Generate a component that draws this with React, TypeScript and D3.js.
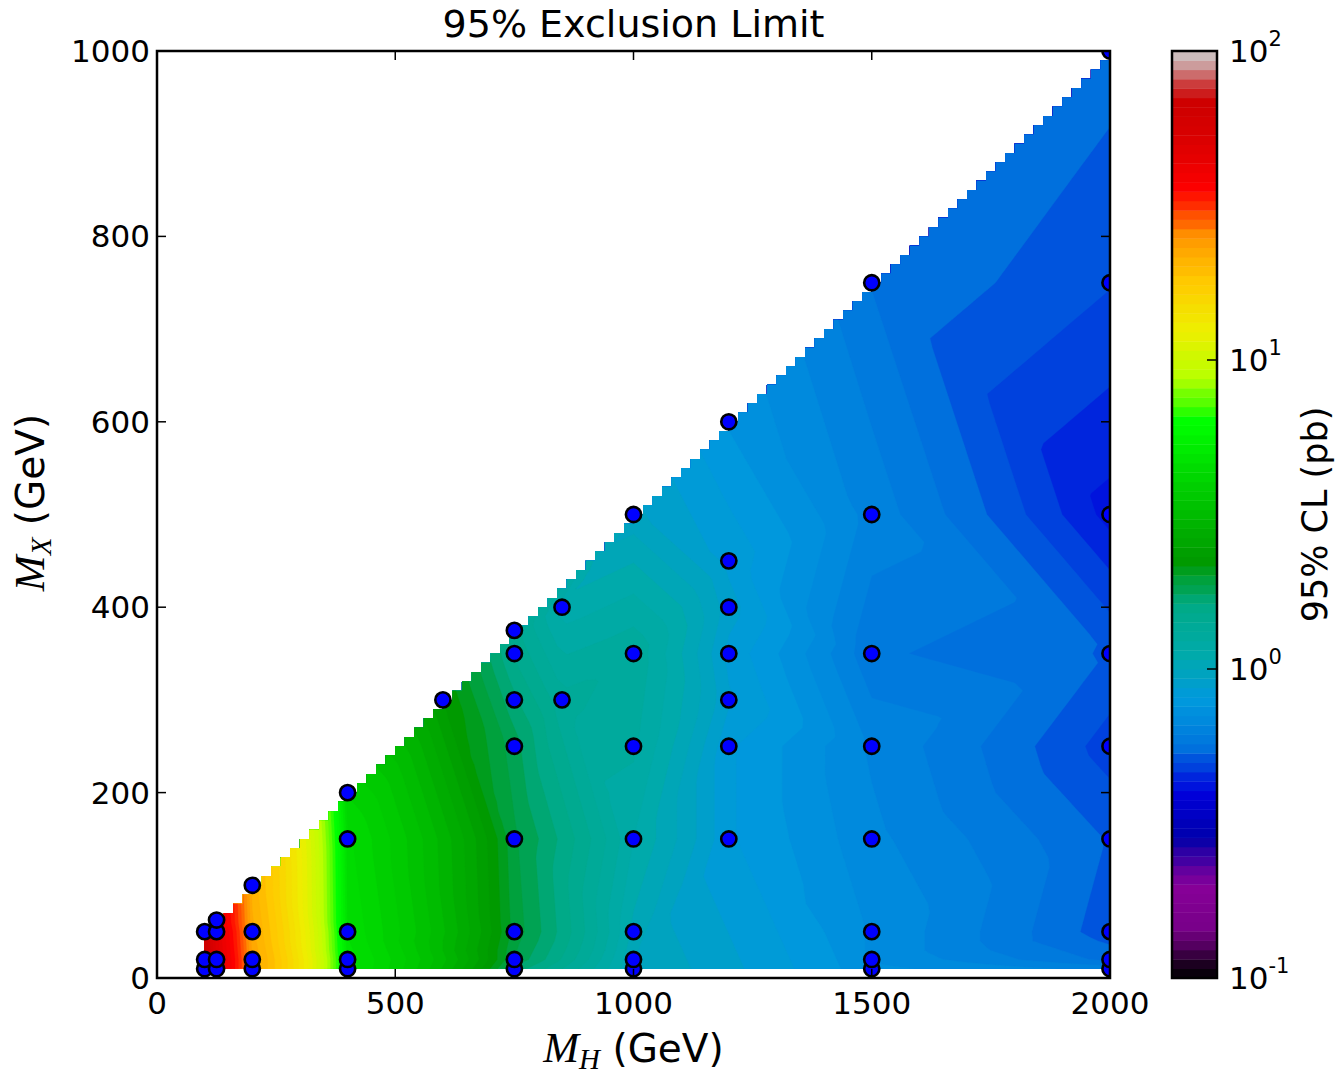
import React, { useMemo } from "react";
import * as d3 from "d3";

// ---------------- data ----------------
const massH = [
  100, 100, 100,
  125, 125, 125, 125,
  200, 200, 200, 200,
  400, 400, 400, 400, 400,
  600,
  750, 750, 750, 750, 750, 750, 750, 750,
  850, 850,
  1000, 1000, 1000, 1000, 1000, 1000, 1000,
  1200, 1200, 1200, 1200, 1200, 1200, 1200,
  1500, 1500, 1500, 1500, 1500, 1500, 1500, 1500,
  2000, 2000, 2000, 2000, 2000, 2000, 2000, 2000, 2000,
];
const massX = [
  10, 20, 50,
  10, 20, 50, 62.5,
  10, 20, 50, 100,
  10, 20, 50, 150, 200,
  300,
  10, 20, 50, 150, 250, 300, 350, 375,
  300, 400,
  10, 20, 50, 150, 250, 350, 500,
  150, 250, 300, 350, 400, 450, 600,
  10, 20, 50, 150, 250, 350, 500, 750,
  10, 20, 50, 150, 250, 350, 500, 750, 1000,
];
const limitPb = [
  72, 70, 66,
  48, 48, 46, 44,
  23, 23, 22, 21,
  4.8, 4.8, 4.6, 4.4, 4.0,
  2.3,
  1.7, 1.85, 1.95, 1.9, 1.8, 1.65, 1.5, 1.45,
  1.35, 1.1,
  1.0, 1.0, 1.05, 1.15, 1.25, 1.3, 0.95,
  0.82, 0.82, 0.88, 0.85, 0.9, 0.85, 0.75,
  0.72, 0.7, 0.7, 0.67, 0.65, 0.58, 0.64, 0.57,
  0.64, 0.56, 0.51, 0.53, 0.48, 0.53, 0.42, 0.5, 0.55,
];

const xTicks = [0, 500, 1000, 1500, 2000];
const yTicks = [0, 200, 400, 600, 800, 1000];
const cbTicks = [0.1, 1, 10, 100];
const cbTickExp = ["-1", "0", "1", "2"];

// interpolation grid (as in the original griddata call)
const GRID_MH_START = 100;
const GRID_MH_STEP = 20;
const GRID_MH_COUNT = 96;
const GRID_MX_START = 10;
const GRID_MX_STEP = 10;
const GRID_MX_COUNT = 100;
const N_LEVELS = 100;
const LEVEL_MIN_EXP = -1;
const LEVEL_MAX_EXP = 2;

// nipy_spectral colormap segment data
const cmapPos = [0, 0.05, 0.1, 0.15, 0.2, 0.25, 0.3, 0.35, 0.4, 0.45, 0.5, 0.55, 0.6, 0.65, 0.7, 0.75, 0.8, 0.85, 0.9, 0.95, 1.0];
const cmapR = [0, 0.4667, 0.5333, 0, 0, 0, 0, 0, 0, 0, 0, 0, 0, 0.7333, 0.9333, 1, 1, 1, 0.8667, 0.8, 0.8];
const cmapG = [0, 0, 0, 0, 0, 0.4667, 0.6, 0.6667, 0.6667, 0.6, 0.7333, 0.8667, 1, 1, 0.9333, 0.8, 0.6, 0, 0, 0, 0.8];
const cmapB = [0, 0.5333, 0.6, 0.6667, 0.8667, 0.8667, 0.8667, 0.6667, 0.5333, 0, 0, 0, 0, 0, 0, 0, 0, 0, 0, 0, 0.8];

// ---------------- layout ----------------
const W = 1335;
const H = 1074;
const PL = 157, PR = 1110, PT = 51, PB = 978;
const CBL = 1172, CBR = 1217;
const FONT = "DejaVu Sans";
const MATH = "Liberation Serif";

function nipy(f: number): string {
  const t = Math.max(0, Math.min(1, f));
  const r = d3.scaleLinear().domain(cmapPos).range(cmapR)(t);
  const g = d3.scaleLinear().domain(cmapPos).range(cmapG)(t);
  const b = d3.scaleLinear().domain(cmapPos).range(cmapB)(t);
  return d3.rgb(r * 255, g * 255, b * 255).formatHex();
}
function lutColor(f: number): string {
  const idx = Math.max(0, Math.min(255, Math.floor(f * 256)));
  return nipy(idx / 255);
}

export default function App() {
  const xs = d3.scaleLinear().domain([0, 2000]).range([PL, PR]);
  const ys = d3.scaleLinear().domain([0, 1000]).range([PB, PT]);
  const cs = d3.scaleLog().domain([0.1, 100]).range([PB, PT]);
  const logNorm = d3.scaleLog().domain([0.1, 100]).range([0, 1]);

  const model = useMemo(() => {
    const pts: [number, number][] = massH.map((h, i) => [h, massX[i]]);
    const del = d3.Delaunay.from(pts);
    const tris = del.triangles;
    const interp = (x: number, y: number): number => {
      for (let t = 0; t < tris.length; t += 3) {
        const a = tris[t], b = tris[t + 1], c = tris[t + 2];
        const [x1, y1] = pts[a], [x2, y2] = pts[b], [x3, y3] = pts[c];
        const det = (y2 - y3) * (x1 - x3) + (x3 - x2) * (y1 - y3);
        if (Math.abs(det) < 1e-9) continue;
        const l1 = ((y2 - y3) * (x - x3) + (x3 - x2) * (y - y3)) / det;
        const l2 = ((y3 - y1) * (x - x3) + (x1 - x3) * (y - y3)) / det;
        const l3 = 1 - l1 - l2;
        const eps = 1e-7;
        if (l1 >= -eps && l2 >= -eps && l3 >= -eps) {
          return l1 * limitPb[a] + l2 * limitPb[b] + l3 * limitPb[c];
        }
      }
      return limitPb[del.find(x, y)];
    };
    const mhGrid = d3.range(GRID_MH_COUNT).map((i) => GRID_MH_START + GRID_MH_STEP * i);
    const mxGrid = d3.range(GRID_MX_COUNT).map((j) => GRID_MX_START + GRID_MX_STEP * j);
    const n = mhGrid.length, m = mxGrid.length;
    const values = new Array(n * m).fill(0);
    for (let i = 0; i < n; i++) {
      let lastValid = NaN;
      for (let j = 0; j < m; j++) {
        const h = mhGrid[i], x = mxGrid[j];
        if (x <= h / 2 + 1e-9) {
          lastValid = interp(h, x);
        }
        values[i + j * n] = lastValid;
      }
    }
    const levels = d3.range(N_LEVELS).map(
      (k) => Math.pow(10, LEVEL_MIN_EXP + ((LEVEL_MAX_EXP - LEVEL_MIN_EXP) * k) / (N_LEVELS - 1))
    );
    const bandColors = levels.slice(0, -1).map((lv, k) => {
      const mid = 0.5 * (lv + levels[k + 1]);
      return lutColor(logNorm(mid));
    });
    const contours = d3.contours().size([n, m]).thresholds(levels.slice(0, -1))(values);
    const proj = d3.geoTransform({
      point(px: number, py: number) {
        (this as any).stream.point(
          xs(GRID_MH_START + GRID_MH_STEP * (px - 0.5)),
          ys(GRID_MX_START + GRID_MX_STEP * (py - 0.5))
        );
      },
    });
    const path = d3.geoPath(proj);
    const bands = contours.map((c, k) => ({ d: path(c as any) || "", fill: bandColors[k] }));

    // valid-cell region (staircase): cell valid when its upper-left corner is valid
    const tops = mhGrid.slice(0, -1).map((h) => d3.max(mxGrid.filter((x) => x <= h / 2 + 1e-9)) as number);
    const poly: [number, number][] = [];
    poly.push([xs(mhGrid[0]), ys(mxGrid[0])]);
    poly.push([xs(mhGrid[n - 1]), ys(mxGrid[0])]);
    for (let i = n - 2; i >= 0; i--) {
      poly.push([xs(mhGrid[i + 1]), ys(tops[i])]);
      poly.push([xs(mhGrid[i]), ys(tops[i])]);
    }
    const clipD = "M" + poly.map((p) => p.join(",")).join("L") + "Z";
    return { bands, clipD, levels, bandColors };
  }, []);

  const tickLen = 9;
  return (
    <svg
      width={W}
      height={H}
      style={{ position: "absolute", left: 0, top: 0, background: "#fff" }}
      fontFamily={FONT}
    >
      <defs>
        <clipPath id="stair">
          <path d={model.clipD} />
        </clipPath>
        <clipPath id="axes">
          <rect x={PL} y={PT} width={PR - PL} height={PB - PT} />
        </clipPath>
      </defs>
      <rect x={0} y={0} width={W} height={H} fill="#fff" />
      <g clipPath="url(#stair)">
        {model.bands.map((b, k) => (
          <path key={k} d={b.d} fill={b.fill} stroke={b.fill} strokeWidth={0.3} />
        ))}
      </g>
      <g clipPath="url(#axes)">
        {massH.map((h, i) => (
          <circle key={i} cx={xs(h)} cy={ys(massX[i])} r={7.6} fill="#0000ff" stroke="#000" strokeWidth={2.6} />
        ))}
      </g>
      {/* ticks */}
      <g stroke="#000" strokeWidth={1.5}>
        {xTicks.map((t) => (
          <g key={"xt" + t}>
            <line x1={xs(t)} x2={xs(t)} y1={PB} y2={PB - tickLen} />
            <line x1={xs(t)} x2={xs(t)} y1={PT} y2={PT + tickLen} />
          </g>
        ))}
        {yTicks.map((t) => (
          <g key={"yt" + t}>
            <line x1={PL} x2={PL + tickLen} y1={ys(t)} y2={ys(t)} />
            <line x1={PR} x2={PR - tickLen} y1={ys(t)} y2={ys(t)} />
          </g>
        ))}
      </g>
      <rect x={PL} y={PT} width={PR - PL} height={PB - PT} fill="none" stroke="#000" strokeWidth={2.5} />
      {/* tick labels */}
      {xTicks.map((t) => (
        <text key={"xl" + t} x={xs(t)} y={1003} fontSize={31} textAnchor="middle" dominantBaseline="central">
          {t}
        </text>
      ))}
      {yTicks.map((t) => (
        <text key={"yl" + t} x={PL - 7} y={ys(t)} fontSize={31} textAnchor="end" dominantBaseline="central">
          {t}
        </text>
      ))}
      {/* title & labels */}
      <text x={(PL + PR) / 2} y={37} fontSize={38} textAnchor="middle">
        95% Exclusion Limit
      </text>
      <text x={(PL + PR) / 2} y={1062} fontSize={39} textAnchor="middle">
        <tspan fontFamily={MATH} fontStyle="italic" fontSize={43}>M</tspan>
        <tspan fontFamily={MATH} fontStyle="italic" fontSize={29} dy={7}>H</tspan>
        <tspan dy={-7}> (GeV)</tspan>
      </text>
      <text transform={`translate(44,${(PT + PB) / 2 - 12}) rotate(-90)`} fontSize={39} textAnchor="middle">
        <tspan fontFamily={MATH} fontStyle="italic" fontSize={43}>M</tspan>
        <tspan fontFamily={MATH} fontStyle="italic" fontSize={29} dy={7}>X</tspan>
        <tspan dy={-7}> (GeV)</tspan>
      </text>
      {/* colorbar */}
      {model.bandColors.map((c, k) => (
        <rect
          key={"cb" + k}
          x={CBL}
          y={cs(model.levels[k + 1])}
          width={CBR - CBL}
          height={cs(model.levels[k]) - cs(model.levels[k + 1]) + 0.4}
          fill={c}
        />
      ))}
      <g stroke="#000" strokeWidth={1.5}>
        {cbTicks.map((t) => (
          <line key={"cbt" + t} x1={CBR} x2={CBR - 10} y1={cs(t)} y2={cs(t)} />
        ))}
      </g>
      <rect x={CBL} y={PT} width={CBR - CBL} height={PB - PT} fill="none" stroke="#000" strokeWidth={2.5} />
      {cbTicks.map((t, k) => (
        <text key={"cbl" + t} x={CBR + 12} y={cs(t) + 11} fontSize={31}>
          10
          <tspan fontSize={21} dy={-16}>
            {cbTickExp[k]}
          </tspan>
        </text>
      ))}
      <text transform={`translate(1315,${(PT + PB) / 2}) rotate(-90)`} fontSize={35} textAnchor="middle" dominantBaseline="central">
        95% CL (pb)
      </text>
    </svg>
  );
}
